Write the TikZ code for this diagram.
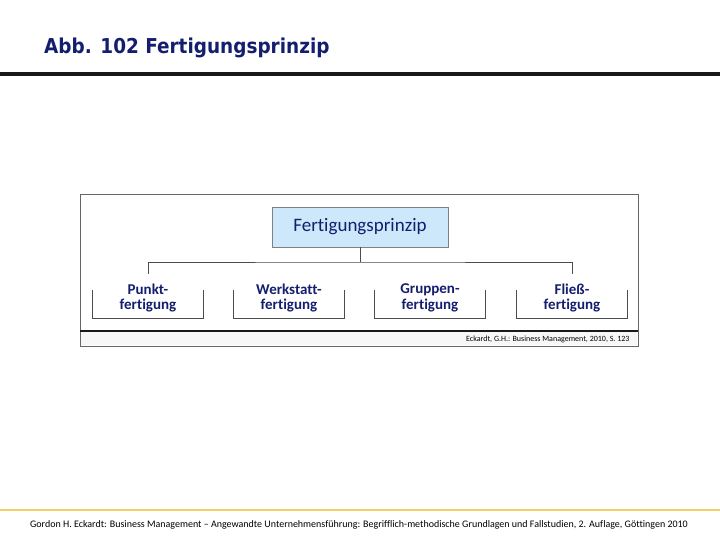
\documentclass[tikz,border=0pt]{standalone}
\usepackage{fontspec}
\setmainfont[Ligatures=NoCommon]{Carlito}
\newfontfamily\titlefont{DejaVu Sans Condensed}
\usetikzlibrary{positioning}
\definecolor{navy}{RGB}{20,30,110}
\definecolor{boxblue}{RGB}{204,232,250}
\definecolor{footyellow}{RGB}{245,205,110}
\tikzset{
  leaf/.style={minimum width=110pt, minimum height=40pt, text=navy, align=center, font=\fontsize{15}{15.5}\selectfont\bfseries},
  bracket/.style={draw=black!70, line width=0.8pt},
}
\begin{document}
\begin{tikzpicture}[x=1pt, y=-1pt]
 \useasboundingbox (0,0) rectangle (720,540);
 % header
 \node[name=title, anchor=west, inner sep=0pt, text=navy, font=\titlefont\fontsize{20.5}{20.5}\selectfont\bfseries] at (44,48) {Abb. 102 Fertigungsprinzip};
 \draw[line width=4pt, black!90] (0,74) -- (720,74);
 % frame
 \draw[black!60, line width=0.8pt] (80,194) rectangle (638,346);
 \draw[black!90, line width=1.5pt] (80,331) -- (638,331);
 \fill[black!3] (81,332) rectangle (637,345);
 \node[name=source, anchor=east, font=\fontsize{8}{8}\selectfont] at (633,339) {Eckardt, G.H.: Business Management, 2010, S. 123};
 % root
 \node[name=root, draw=black!50, fill=boxblue, text=navy, minimum width=176pt, minimum height=40pt, font=\fontsize{19}{19}\selectfont] at (360,227) {Fertigungsprinzip};
 % leaves
 \node[name=punkt, leaf] at (148,298) {Punkt-\\fertigung};
 \node[name=werk, leaf] at (289,298) {Werkstatt-\\fertigung};
 \node[name=gruppe, leaf] at (430,298) {Gruppen-\\fertigung};
 \node[name=fliess, leaf] at (572,298) {Fließ-\\fertigung};
 \foreach \n in {punkt, werk, gruppe, fliess}
   \draw[bracket] ([yshift=-12pt]\n.north west) -- (\n.south west) -- (\n.south east) -- ([yshift=-12pt]\n.north east);
 % connectors
 \coordinate (bar) at (360,262);
 \draw[bracket] (root.south) -- (bar);
 \draw[bracket] ([yshift=4pt]punkt.north) |- (bar) -| ([yshift=4pt]fliess.north);
 % footer
 \draw[footyellow, line width=2pt] (0,510) -- (720,510);
 \node[name=footer, font=\fontsize{10}{10}\selectfont] at (359,525) {Gordon H. Eckardt: Business Management – Angewandte Unternehmensführung: Begrifflich-methodische Grundlagen und Fallstudien, 2. Auflage, Göttingen 2010};
\end{tikzpicture}
\end{document}
